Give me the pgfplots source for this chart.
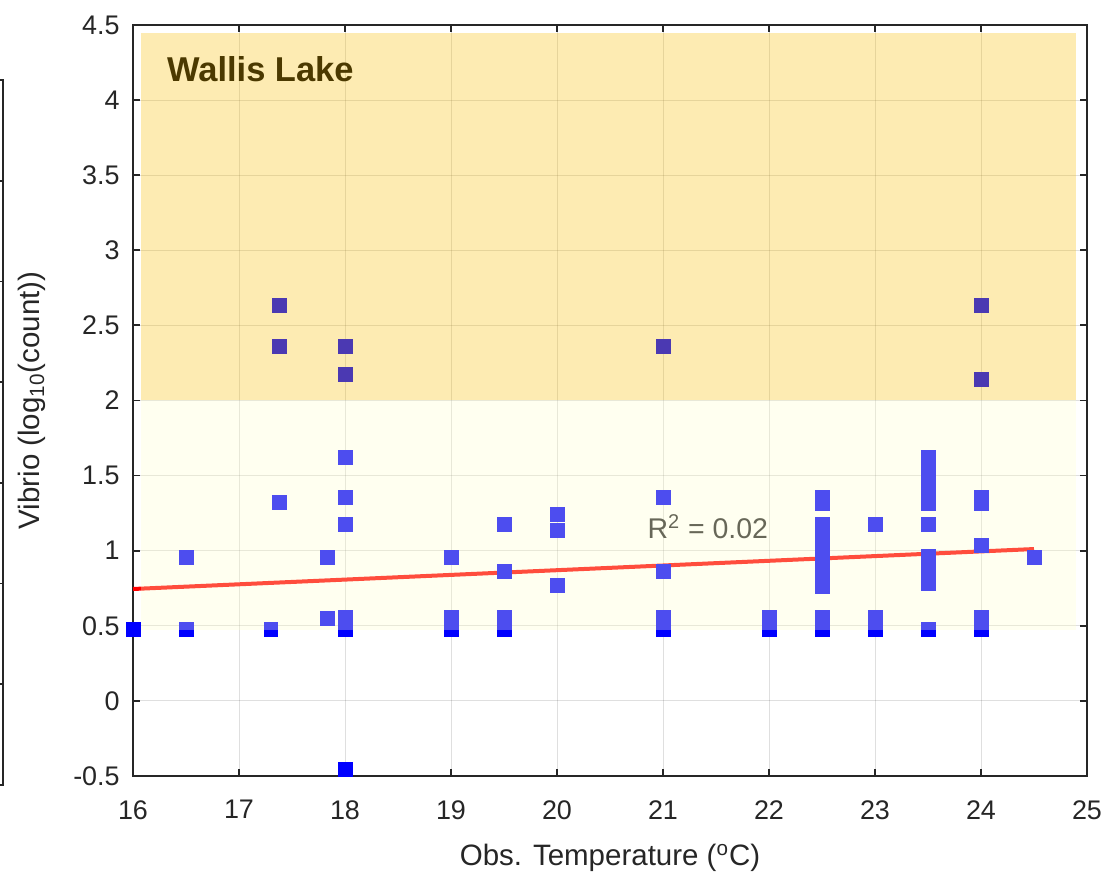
\documentclass[border=0pt]{standalone}
\usepackage{fontspec}
\setmainfont{Liberation Sans}
\usepackage{pgfplots}
\pgfplotsset{compat=1.18}
\definecolor{mgray}{RGB}{38,38,38}
\definecolor{patchorange}{RGB}{250,190,0}
\definecolor{patchyellow}{RGB}{255,255,204}
\pgfplotsset{
  layers/bands/.define layer set={
    axis background, axis grid, pre main, main, patches,
    axis ticks, axis lines, axis tick labels, axis descriptions, axis foreground
  }{},
}

\begin{document}
\begin{tikzpicture}
% neighbouring panel on the left, cut off by the page edge
\begin{axis}[
  at={(-65bp,-4.5bp)}, anchor=south east,
  scale only axis, width=100bp, height=352.5bp,
  xmin=0, xmax=1, ymin=0, ymax=7,
  xtick=\empty, ytick={1,2,3,4,5,6}, yticklabels={},
  axis line style={mgray, line width=0.9bp},
  tick style={mgray, line width=0.9bp},
  major tick length=3.5bp,
]
\end{axis}

\begin{axis}[
  set layers=bands,
  at={(0,0)}, anchor=south west,
  scale only axis, width=477bp, height=375.5bp,
  xmin=16, xmax=25, ymin=-0.5, ymax=4.5,
  xtick={16,17,18,19,20,21,22,23,24,25},
  xticklabels={16,17,18,19,20,21,22,23,24,25},
  ytick={-0.5,0,0.5,1,1.5,2,2.5,3,3.5,4,4.5},
  yticklabels={-0.5,0,0.5,1,1.5,2,2.5,3,3.5,4,4.5},
  grid=major,
  major grid style={draw=mgray, opacity=0.15, line width=0.5bp},
  clip=false,
  axis line style={mgray, line width=0.9bp},
  tick style={mgray, line width=0.9bp},
  major tick length=3.5bp,
  tick label style={font=\fontsize{13.5}{16}\selectfont, text=mgray, inner sep=0pt},
  xticklabel style={yshift=-12bp},
  yticklabel style={xshift=-6.5bp},
  label style={font=\fontsize{14.8}{18}\selectfont, text=mgray},
  xlabel={Obs. Temperature (\textsuperscript{o}C)},
  ylabel={Vibrio (log\textsubscript{10}(count))},
  xlabel style={at={([yshift=-41bp]axis description cs:0.5,0)}, anchor=center},
  ylabel style={at={([xshift=-50.5bp]axis description cs:0,0.5)}, anchor=center},
]
\addplot[only marks, mark=square*, mark size=3.4bp,
  mark options={draw=blue, fill=blue, line width=0.2bp}] table {
x y
16 0.477
16.5 0.958
16.5 0.477
17.3 0.477
17.38 2.636
17.38 2.363
17.38 1.324
17.83 0.958
17.83 0.552
18 2.363
18 2.177
18 1.624
18 1.358
18 1.176
18 0.556
18 0.477
18 -0.453
19 0.958
19 0.556
19 0.477
19.5 1.176
19.5 0.865
19.5 0.556
19.5 0.477
20 1.244
20 1.138
20 0.772
21 2.363
21 1.357
21 0.865
21 0.556
21 0.477
22 0.556
22 0.477
22.5 1.357
22.5 1.317
22.5 1.178
22.5 1.098
22.5 1.018
22.5 0.931
22.5 0.845
22.5 0.765
22.5 0.556
22.5 0.477
23 1.176
23 0.556
23 0.477
23.5 1.624
23.5 1.544
23.5 1.464
23.5 1.397
23.5 1.317
23.5 1.176
23.5 0.965
23.5 0.878
23.5 0.785
23.5 0.477
24 2.636
24 2.143
24 1.357
24 1.317
24 1.038
24 0.556
24 0.477
24.5 0.958
};
\addplot[red, line width=2bp, no marks] coordinates {(16,0.745) (24.5,1.011)};
\node[anchor=base west, inner sep=0pt, text=black,
  font=\fontsize{17.3}{20}\selectfont\bfseries] at (axis cs:16.318,4.122) {Wallis Lake};
\node[anchor=base west, inner sep=0pt, text=black!85,
  font=\fontsize{14.3}{17}\selectfont] at (axis cs:20.85,1.078) {R\textsuperscript{2} = 0.02};
% shaded bands, drawn translucent over the data
\addplot[on layer=patches, draw=none, fill=patchyellow, fill opacity=0.3]
  coordinates {(16.075,0.47) (24.893,0.47) (24.893,2) (16.075,2)} -- cycle;
\addplot[on layer=patches, draw=none, fill=patchorange, fill opacity=0.3]
  coordinates {(16.075,2) (24.893,2) (24.893,4.447) (16.075,4.447)} -- cycle;
\end{axis}
\pgfresetboundingbox
\path[use as bounding box] (-66.5bp,-55.5bp) rectangle (490.5bp,388bp);
\end{tikzpicture}
\end{document}
